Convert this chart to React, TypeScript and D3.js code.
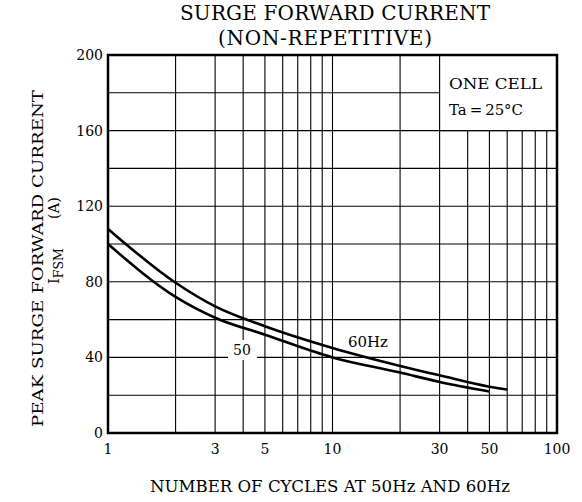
import { useEffect, useRef } from 'react'
import * as d3 from 'd3'

// readings
const cycles60 = [1, 2, 3, 5, 10, 20, 30, 50, 60]
const current60 = [108, 79.5, 67, 56.5, 45, 35.5, 30.5, 24.5, 23]
const cycles50 = [1, 2, 3, 5, 10, 20, 30, 50]
const current50 = [100, 72, 61, 52, 40, 32, 27, 22]
const xTicks = [1, 3, 5, 10, 30, 50, 100]
const yTicks = [0, 40, 80, 120, 160, 200]

const FONT = '"DejaVu Serif", serif'

export default function App() {
  const ref = useRef<SVGSVGElement>(null)

  useEffect(() => {
    const width = 582
    const height = 502
    const margin = { top: 55, right: 25, bottom: 69, left: 108 }

    const svg = d3.select(ref.current)
    svg.selectAll('*').remove()

    const x = d3.scaleLog()
      .domain([1, 100])
      .range([margin.left, width - margin.right])
    const y = d3.scaleLinear()
      .domain([0, 200])
      .range([height - margin.bottom, margin.top])

    // grid
    const gridX: number[] = []
    for (const dec of [1, 10]) for (let k = 2; k <= 9; k++) gridX.push(k * dec)
    gridX.push(10)
    const gridY = d3.range(20, 200, 20)

    const grid = svg.append('g').attr('stroke', '#000').attr('stroke-width', 1.1)
    grid.selectAll('line.v')
      .data(gridX)
      .join('line')
      .attr('x1', d => x(d)).attr('x2', d => x(d))
      .attr('y1', y(0)).attr('y2', y(200))
    grid.selectAll('line.h')
      .data(gridY)
      .join('line')
      .attr('class', 'h')
      .attr('x1', x(1)).attr('x2', x(100))
      .attr('y1', d => y(d)).attr('y2', d => y(d))

    // condition box, top right (hides the grid)
    svg.append('rect')
      .attr('x', x(30)).attr('y', y(200))
      .attr('width', x(100) - x(30)).attr('height', y(160) - y(200))
      .attr('fill', '#fff').attr('stroke', '#000').attr('stroke-width', 1.1)
    const box = svg.append('g')
      .attr('font-family', FONT).attr('font-size', 15).attr('fill', '#000')
    box.append('text').attr('x', 449).attr('y', 89)
      .attr('textLength', 93).attr('lengthAdjust', 'spacingAndGlyphs')
      .text('ONE CELL')
    box.append('text').attr('x', 449).attr('y', 115)
      .attr('textLength', 74).attr('lengthAdjust', 'spacingAndGlyphs')
      .text('Ta\u2009=\u200925°C')

    // frame
    svg.append('rect')
      .attr('x', x(1)).attr('y', y(200))
      .attr('width', x(100) - x(1)).attr('height', y(0) - y(200))
      .attr('fill', 'none').attr('stroke', '#000').attr('stroke-width', 2.5)

    // curves
    const line = d3.line<[number, number]>()
      .x(d => x(d[0]))
      .y(d => y(d[1]))
      .curve(d3.curveMonotoneX)
    const series = [
      cycles60.map((c, i) => [c, current60[i]] as [number, number]),
      cycles50.map((c, i) => [c, current50[i]] as [number, number]),
    ]
    svg.append('g')
      .selectAll('path')
      .data(series)
      .join('path')
      .attr('d', d => line(d))
      .attr('fill', 'none')
      .attr('stroke', '#000')
      .attr('stroke-width', 2.6)

    // curve labels
    svg.append('rect')
      .attr('x', 228).attr('y', 340).attr('width', 29).attr('height', 20)
      .attr('fill', '#fff')
    svg.append('text')
      .attr('x', 242).attr('y', 355)
      .attr('text-anchor', 'middle')
      .attr('font-family', FONT).attr('font-size', 14)
      .text('50')
    svg.append('text')
      .attr('x', 348).attr('y', 347)
      .attr('textLength', 40).attr('lengthAdjust', 'spacingAndGlyphs')
      .attr('font-family', FONT).attr('font-size', 15)
      .text('60Hz')

    // tick labels
    svg.append('g')
      .attr('font-family', FONT).attr('font-size', 14)
      .attr('text-anchor', 'end')
      .selectAll('text')
      .data(yTicks)
      .join('text')
      .attr('x', x(1) - 5)
      .attr('y', d => y(d) + 5)
      .text(d => d)
    svg.append('g')
      .attr('font-family', FONT).attr('font-size', 14)
      .attr('text-anchor', 'middle')
      .selectAll('text')
      .data(xTicks)
      .join('text')
      .attr('x', d => x(d))
      .attr('y', y(0) + 21)
      .text(d => d)

    // titles
    const title = svg.append('g')
      .attr('font-family', FONT).attr('font-size', 20)
      .attr('lengthAdjust', 'spacingAndGlyphs')
    title.append('text').attr('x', 180).attr('y', 20)
      .attr('textLength', 310).text('SURGE FORWARD CURRENT')
    title.append('text').attr('x', 218).attr('y', 45)
      .attr('textLength', 214).text('(NON-REPETITIVE)')

    svg.append('text')
      .attr('x', 150).attr('y', 492)
      .attr('textLength', 360).attr('lengthAdjust', 'spacingAndGlyphs')
      .attr('font-family', FONT).attr('font-size', 16)
      .text('NUMBER OF CYCLES AT 50Hz AND 60Hz')

    const yTitle = svg.append('g')
      .attr('font-family', FONT).attr('font-size', 14.5)
    yTitle.append('text')
      .attr('transform', 'translate(43,427) rotate(-90)')
      .attr('textLength', 337).attr('lengthAdjust', 'spacingAndGlyphs')
      .text('PEAK SURGE FORWARD CURRENT')
    const sub = yTitle.append('text')
      .attr('transform', 'translate(59,284) rotate(-90)')
    sub.append('tspan').text('I')
    sub.append('tspan').attr('font-size', 12.5).attr('dy', 4).text('FSM')
    yTitle.append('text')
      .attr('transform', 'translate(59,219) rotate(-90)')
      .text('(A)')
  }, [])

  return (
    <svg
      ref={ref}
      width={582}
      height={502}
      style={{ position: 'absolute', left: 0, top: 0, background: '#fff' }}
    />
  )
}
